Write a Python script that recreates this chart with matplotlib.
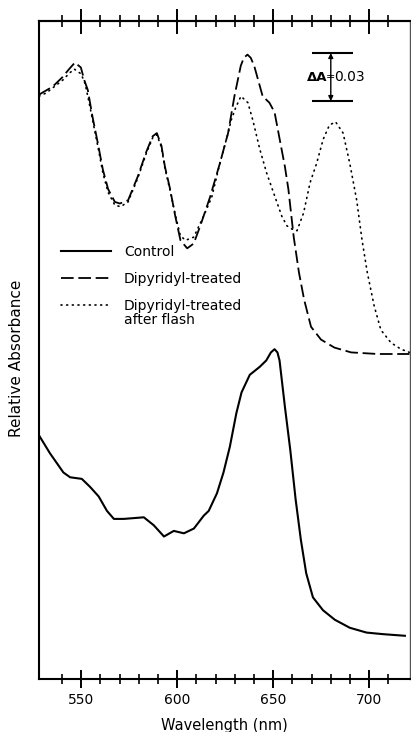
import matplotlib
matplotlib.use("Agg")
import matplotlib.pyplot as plt
from matplotlib.ticker import FixedLocator

# wavelength (nm) / relative absorbance
wl_control = [528.1, 533.7, 540.7, 544.2, 550.3, 554.6, 559.1, 563.4, 567.0, 572.2,
              582.6, 587.8, 593.1, 598.2, 603.5, 608.7, 613.8, 616.4, 620.7, 624.1,
              627.4, 630.8, 633.5, 637.8, 643.0, 646.4, 648.8, 650.7, 652.2, 653.3,
              656.1, 658.9, 661.7, 664.4, 667.2, 670.7, 675.9, 682.1, 689.9, 698.6,
              707.3, 718.6]
abs_control = [0.152, 0.141, 0.129, 0.126, 0.125, 0.120, 0.114, 0.105, 0.100, 0.100,
               0.101, 0.096, 0.089, 0.0925, 0.091, 0.094, 0.102, 0.105, 0.116, 0.129,
               0.145, 0.166, 0.179, 0.190, 0.195, 0.199, 0.204, 0.206, 0.204, 0.199,
               0.170, 0.143, 0.112, 0.087, 0.066, 0.051, 0.043, 0.037, 0.032, 0.029,
               0.028, 0.027]

wl_treated = [528.0, 535.1, 540.3, 543.7, 546.7, 549.8, 551.6, 553.4, 555.9, 558.6,
              561.3, 564.0, 567.5, 570.1, 574.4, 579.5, 583.8, 587.2, 589.4, 591.8,
              593.6, 596.3, 599.0, 601.7, 605.2, 608.6, 612.0, 617.1, 622.2, 626.5,
              629.8, 633.1, 634.7, 636.6, 638.3, 640.1, 644.5, 648.0, 650.7, 653.4,
              656.1, 657.9, 660.7, 663.4, 666.1, 669.7, 674.9, 681.9, 690.6, 704.5,
              721.0]
abs_treated = [0.365, 0.370, 0.376, 0.381, 0.385, 0.382, 0.374, 0.368, 0.351, 0.335,
               0.318, 0.306, 0.298, 0.297, 0.299, 0.314, 0.329, 0.339, 0.341, 0.333,
               0.320, 0.306, 0.289, 0.274, 0.269, 0.272, 0.283, 0.301, 0.322, 0.341,
               0.364, 0.383, 0.388, 0.390, 0.388, 0.383, 0.364, 0.360, 0.354, 0.337,
               0.320, 0.306, 0.276, 0.254, 0.237, 0.220, 0.212, 0.207, 0.204, 0.203,
               0.203]

wl_flash = [528.0, 531.7, 536.0, 540.3, 543.5, 546.3, 549.9, 552.0, 554.1, 558.6,
            561.3, 564.0, 567.5, 570.5, 574.4, 579.5, 583.8, 587.2, 589.4, 591.8,
            593.6, 596.3, 599.0, 601.6, 604.3, 608.6, 613.7, 618.0, 622.2, 626.5,
            628.1, 630.5, 633.2, 636.8, 639.4, 643.0, 646.6, 650.1, 654.5, 657.2,
            659.8, 662.4, 665.8, 669.2, 672.6, 676.0, 679.3, 682.5, 686.4, 689.9,
            693.5, 696.3, 699.0, 702.6, 706.1, 711.4, 716.6, 721.0]
abs_flash = [0.364, 0.366, 0.370, 0.374, 0.378, 0.381, 0.378, 0.372, 0.360, 0.333,
             0.316, 0.304, 0.296, 0.295, 0.298, 0.313, 0.328, 0.338, 0.340, 0.332,
             0.319, 0.305, 0.290, 0.277, 0.274, 0.276, 0.289, 0.301, 0.322, 0.341,
             0.349, 0.357, 0.364, 0.360, 0.349, 0.331, 0.316, 0.304, 0.289, 0.283,
             0.281, 0.280, 0.291, 0.310, 0.322, 0.337, 0.346, 0.348, 0.341, 0.322,
             0.299, 0.274, 0.254, 0.233, 0.218, 0.210, 0.206, 0.204]

labels = ["Control", "Dipyridyl-treated", "Dipyridyl-treated", "after flash"]
major_ticks = [550, 600, 650, 700]
minor_ticks = [540, 560, 570, 580, 590, 610, 620, 630, 640,
               660, 670, 680, 690, 710]

# scale bar for delta A
bar_wl = (670.4, 691.8)
bar_arrow_wl = 680.0
bar_low = 0.361
bar_delta = 0.03

plt.rcParams["font.family"] = ["DejaVu Sans"]

fig = plt.figure(figsize=(4.11, 7.32), dpi=100)
ax = fig.add_axes([39 / 411, 53 / 732, 370.5 / 411, 658 / 732])

ax.plot(wl_control, abs_control, color="black", lw=1.5, label=labels[0])
ax.plot(wl_treated, abs_treated, color="black", lw=1.3,
        linestyle=(0, (7, 2.6)), label=labels[1])
ax.plot(wl_flash, abs_flash, color="black", lw=1.2,
        linestyle=(0, (0.6, 2.8)), dash_capstyle="round", label=labels[2])

ax.set_xlim(528, 721)
ax.set_ylim(0, 0.411)

for side in ["left", "bottom", "top", "right"]:
    ax.spines[side].set_linewidth(1.5)
ax.spines["right"].set_linewidth(1.0)
ax.spines["right"].set_color("#555555")

ax.set_yticks([])
ax.xaxis.set_major_locator(FixedLocator(major_ticks))
ax.xaxis.set_minor_locator(FixedLocator(minor_ticks))
ax.tick_params(axis="x", which="major", direction="inout", length=13,
               width=1.4, labelsize=10, pad=3.5)
ax.tick_params(axis="x", which="minor", direction="inout", length=7, width=1.2)

top = ax.secondary_xaxis("top")
top.xaxis.set_major_locator(FixedLocator(major_ticks))
top.xaxis.set_minor_locator(FixedLocator(minor_ticks))
top.tick_params(which="major", direction="inout", length=18, width=1.4,
                labeltop=False)
top.tick_params(which="minor", direction="inout", length=9, width=1.2)
top.spines["top"].set_linewidth(1.5)

ax.set_xlabel("Wavelength (nm)", fontsize=10.5, labelpad=8)
ax.set_ylabel("Relative Absorbance", fontsize=11)
ax.yaxis.set_label_coords(-0.040, 0.488)

leg = ax.legend(loc="upper left", bbox_to_anchor=(0.0586, 0.6596),
                frameon=False, fontsize=10, handlelength=3.6,
                handletextpad=0.95, labelspacing=0.92, borderpad=0,
                borderaxespad=0)

# delta A scale bar
ax.hlines([bar_low, bar_low + bar_delta], bar_wl[0], bar_wl[1],
          color="black", lw=1.5)
bar_mid = bar_low + bar_delta / 2
for end in [bar_low, bar_low + bar_delta]:
    ax.annotate("", xy=(bar_arrow_wl, end), xytext=(bar_arrow_wl, bar_mid),
                arrowprops=dict(arrowstyle="-|>", color="black", lw=1.0,
                                mutation_scale=7, shrinkA=0, shrinkB=0))
ax.text(bar_arrow_wl - 2.0, bar_mid, "ΔA", ha="right", va="center",
        fontsize=9.5, fontweight="bold")
ax.text(bar_arrow_wl, bar_mid, "=", ha="center", va="center", fontsize=8)
ax.text(bar_arrow_wl + 1.8, bar_mid, "0.03", ha="left", va="center",
        fontsize=10)

# second line of the third legend label, placed under the first line
fig.canvas.draw()
bb = leg.texts[2].get_window_extent()
ax.annotate(labels[3], xy=(bb.x0, bb.y0), xycoords="figure pixels",
            xytext=(0, -0.5), textcoords="offset points",
            ha="left", va="top", fontsize=10)

fig.savefig("out.png", dpi=100)
